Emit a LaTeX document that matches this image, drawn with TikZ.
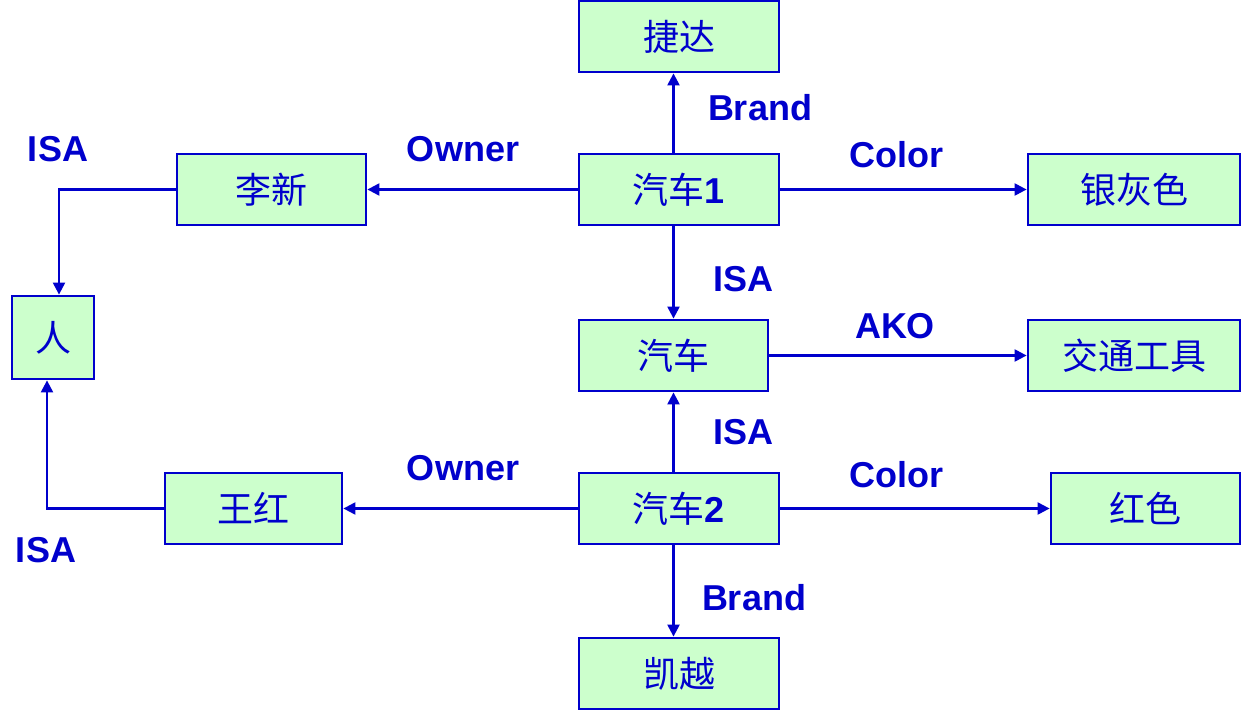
\documentclass[tikz,border=0pt]{standalone}
\usepackage{fontspec}
\setmainfont{Liberation Sans}
\newfontfamily\cjk{Noto Sans CJK SC}
\usetikzlibrary{arrows.meta}
\definecolor{netblue}{HTML}{0000CC}
\definecolor{netgreen}{HTML}{CCFFCC}
\newcommand{\carno}[1]{汽车{\normalfont\bfseries #1}}
\tikzset{
  concept/.style={draw=netblue, line width=1.4pt, fill=netgreen, text=netblue,
    inner sep=0pt, minimum height=35.5pt, font=\cjk\fontsize{18}{18}\selectfont},
  link/.style={draw=netblue, line width=1.1pt, -{Triangle[length=6pt,width=6pt]}},
  rel/.style={text=netblue, font=\bfseries\fontsize{18}{18}\selectfont}
}
\begin{document}
\begin{tikzpicture}[x=0.5pt,y=-0.5pt]
        \useasboundingbox (0,0) rectangle (1241,711);

        % Concepts
        \node[concept, minimum width=100pt] (jetta) at (679,36.5) {捷达};
        \node[concept, minimum width=100pt] (car1) at (679,189.5) {\carno{1}};
        \node[concept, minimum width=94.5pt] (lixin) at (271.5,189.5) {李新};
        \node[concept, minimum width=106pt] (silver) at (1134,189.5) {银灰色};
        \node[concept, minimum width=41pt, minimum height=41.5pt] (person) at (53,337.5) {人};
        \node[concept, minimum width=94.5pt] (car) at (673.5,355.5) {汽车};
        \node[concept, minimum width=106pt] (vehicle) at (1134,355.5) {交通工具};
        \node[concept, minimum width=88.5pt] (wanghong) at (253.5,508.5) {王红};
        \node[concept, minimum width=100pt] (car2) at (679,508.5) {\carno{2}};
        \node[concept, minimum width=94.5pt] (red) at (1145.5,508.5) {红色};
        \node[concept, minimum width=100pt] (regal) at (679,673.5) {凯越};

        % Turning points
        \coordinate (lixinturn) at (59,189.5);
        \coordinate (wangturn) at (47,508.5);

        % Links
        \draw[link] (car1.north -| car.north) -- (jetta.south -| car.north);
        \draw[link] (car1.west) -- (lixin.east);
        \draw[link] (car1.east) -- (silver.west);
        \draw[link] (car1.south -| car.north) -- (car.north);
        \draw[link] (car.east) -- (vehicle.west);
        \draw[link] (car2.north -| car.south) -- (car.south);
        \draw[link] (car2.west) -- (wanghong.east);
        \draw[link] (car2.east) -- (red.west);
        \draw[link] (car2.south -| car.south) -- (regal.north -| car.south);
        \draw[link] (lixin.west) -- (lixinturn) -- (person.north -| lixinturn);
        \draw[link] (wanghong.west) -- (wangturn) -- (person.south -| wangturn);

        % Relation labels
        \node[rel] (brandtop) at (760,108) {Brand};
        \node[rel] (ownertop) at (463,149) {Owner};
        \node[rel] (colortop) at (896,155) {Color};
        \node[rel] (isatopleft) at (58,149) {ISA};
        \node[rel] (isaup) at (743,279) {ISA};
        \node[rel] (ako) at (895,326) {AKO};
        \node[rel] (isadown) at (743,432) {ISA};
        \node[rel] (ownerbot) at (463,468) {Owner};
        \node[rel] (colorbot) at (896,475) {Color};
        \node[rel] (isabotleft) at (46,550) {ISA};
        \node[rel] (brandbot) at (754,598) {Brand};
    \end{tikzpicture}
\end{document}
